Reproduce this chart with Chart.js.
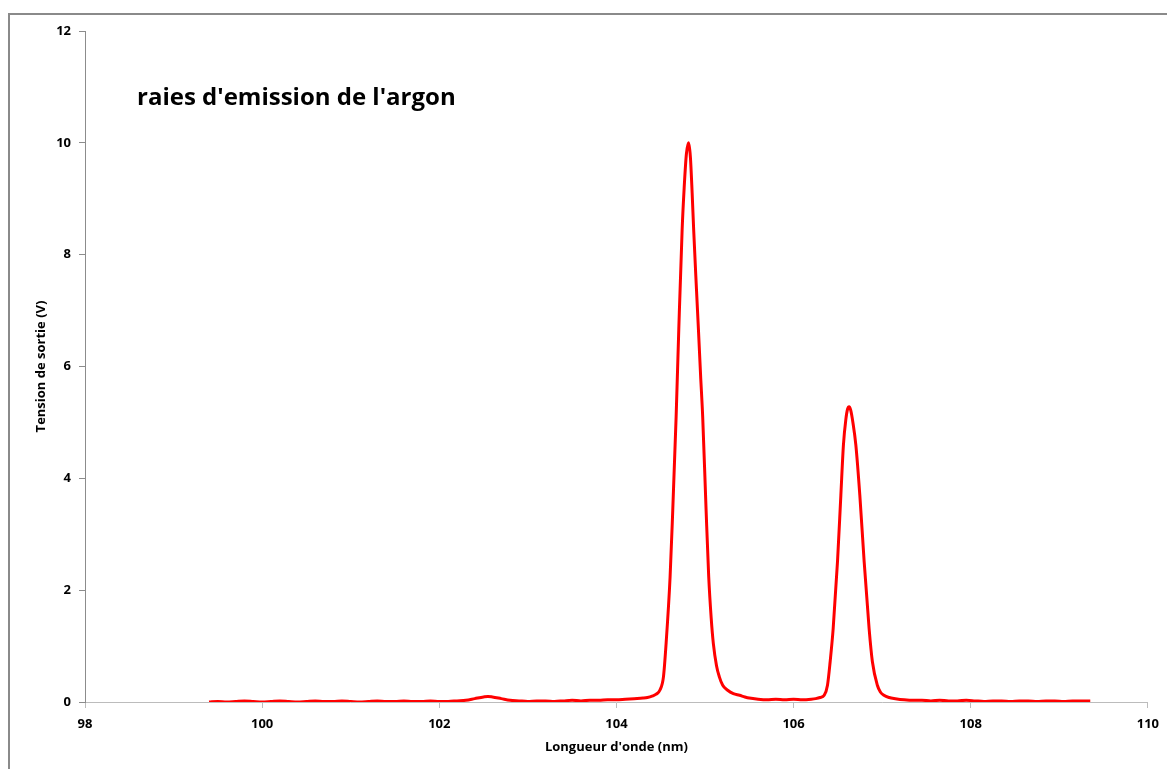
<!DOCTYPE html>
<html>
<head>
<meta charset="utf-8">
<script src="https://cdn.jsdelivr.net/npm/chart.js@4.4.1/dist/chart.umd.min.js"></script>
<style>
  html, body { margin: 0; padding: 0; background: #fff; overflow: hidden; }
  .frame {
    position: absolute; left: 8px; top: 13px; width: 1300px; height: 900px;
    border: 2px solid #8a8a8a; box-sizing: border-box;
  }
  .chart-box { position: absolute; left: 0; top: 0; width: 1167px; height: 769px; }
  .chart-title {
    position: absolute; left: 137px; top: 84px; margin: 0;
    font-family: 'Open Sans', sans-serif; font-weight: 700; font-size: 24px;
    line-height: 1; color: #000; white-space: nowrap;
  }
</style>
</head>
<body>
<div class="frame"></div>
<div class="chart-box"><canvas id="spectrum"></canvas></div>
<h2 class="chart-title">raies d'emission de l'argon</h2>
<script>
const wavelength = [
  99.4, 99.5, 99.6, 99.7, 99.8, 99.9, 100.0, 100.1, 100.2, 100.3, 100.4, 100.5,
  100.6, 100.7, 100.8, 100.9, 101.0, 101.1, 101.2, 101.3, 101.4, 101.5, 101.6,
  101.7, 101.8, 101.9, 102.0, 102.1, 102.2, 102.3, 102.4, 102.5, 102.55, 102.6,
  102.7, 102.8, 102.9, 103.0, 103.1, 103.2, 103.3, 103.4, 103.5, 103.6, 103.7,
  103.8, 103.9, 104.0, 104.1, 104.2, 104.3, 104.35, 104.41, 104.45, 104.49,
  104.531, 104.561, 104.606, 104.636, 104.674, 104.704, 104.742, 104.765, 104.79,
  104.815, 104.835, 104.855, 104.872, 104.9, 104.926, 104.95, 104.974, 105.012,
  105.042, 105.07, 105.094, 105.13, 105.162, 105.2, 105.256, 105.32, 105.39,
  105.45, 105.5, 105.6, 105.7, 105.8, 105.9, 106.0, 106.1, 106.2, 106.25, 106.3,
  106.346, 106.383, 106.413, 106.447, 106.496, 106.534, 106.563, 106.59, 106.61,
  106.627, 106.645, 106.67, 106.703, 106.748, 106.797, 106.853, 106.89, 106.946,
  106.98, 107.02, 107.08, 107.15, 107.25, 107.35, 107.45, 107.55, 107.65, 107.75,
  107.85, 107.95, 108.05, 108.15, 108.25, 108.35, 108.45, 108.55, 108.65, 108.75,
  108.85, 108.95, 109.05, 109.15, 109.25, 109.35
]
const voltage = [
  0.00, 0.01, 0.00, 0.01, 0.02, 0.01, 0.00, 0.01, 0.02, 0.01, 0.00, 0.01,
  0.02, 0.01, 0.01, 0.02, 0.01, 0.00, 0.01, 0.02, 0.01, 0.01, 0.02,
  0.01, 0.01, 0.02, 0.01, 0.01, 0.02, 0.03, 0.06, 0.09, 0.10, 0.09,
  0.06, 0.03, 0.02, 0.01, 0.02, 0.02, 0.01, 0.02, 0.03, 0.02, 0.03,
  0.03, 0.04, 0.04, 0.05, 0.06, 0.07, 0.08, 0.11, 0.14, 0.21,
  0.45, 1.05, 2.24, 3.43, 5.1, 6.66, 8.45, 9.2, 9.8,
  10.0, 9.75, 9.1, 8.45, 7.5, 6.66, 5.85, 5.1, 3.45,
  2.24, 1.5, 1.05, 0.65, 0.45, 0.30, 0.21, 0.15, 0.12,
  0.09, 0.07, 0.05, 0.04, 0.05, 0.04, 0.05, 0.04, 0.05, 0.06, 0.08,
  0.12, 0.30, 0.72, 1.31, 2.51, 3.70, 4.60, 5.05, 5.24,
  5.28, 5.22, 5.0, 4.60, 3.70, 2.51, 1.31, 0.72, 0.30,
  0.18, 0.12, 0.08, 0.06, 0.04, 0.03, 0.03, 0.02, 0.03, 0.02,
  0.02, 0.03, 0.02, 0.01, 0.02, 0.02, 0.01, 0.02, 0.02, 0.01,
  0.02, 0.02, 0.01, 0.02, 0.02, 0.02
]
const xTicks = { min: 98, max: 110, step: 2 }
const yTicks = { min: 0, max: 12, step: 2 }

const tickFont = { family: "'Open Sans', sans-serif", weight: 'bold', size: 13 }

const points = wavelength.map((w, i) => ({ x: w, y: voltage[i] }))

new Chart(document.getElementById('spectrum'), {
  type: 'line',
  data: {
    datasets: [
      {
        label: 'argon',
        data: points,
        borderColor: '#ff0000',
        borderWidth: 3,
        pointRadius: 0,
        fill: false,
        cubicInterpolationMode: 'monotone',
      },
    ],
  },
  options: {
    responsive: true,
    maintainAspectRatio: false,
    animation: false,
    layout: { padding: { left: 0, top: 31, right: 18, bottom: 0 } },
    plugins: {
      legend: { display: false },
      tooltip: { enabled: false },
    },
    scales: {
      x: {
        type: 'linear',
        min: xTicks.min,
        max: xTicks.max,
        ticks: { stepSize: xTicks.step, color: '#000', font: tickFont, padding: 8, maxRotation: 0 },
        grid: { drawOnChartArea: false, drawTicks: true, tickLength: 6, color: '#bcbcbc' },
        border: { color: '#bcbcbc', width: 1 },
        title: {
          display: true,
          text: "Longueur d'onde (nm)",
          color: '#000',
          font: tickFont,
          padding: { top: 0, bottom: 14 },
        },
        afterFit: (scale) => { scale.height = 67 },
      },
      y: {
        min: yTicks.min,
        max: yTicks.max,
        ticks: { stepSize: yTicks.step, color: '#000', font: tickFont, padding: 8 },
        grid: { drawOnChartArea: false, drawTicks: true, tickLength: 6, color: '#8c8c8c' },
        border: { color: '#8c8c8c', width: 1 },
        title: {
          display: true,
          text: 'Tension de sortie (V)',
          color: '#000',
          font: tickFont,
          padding: { top: 33, bottom: 0 },
        },
        afterFit: (scale) => { scale.width = 85 },
      },
    },
  },
})
</script>
</body>
</html>
